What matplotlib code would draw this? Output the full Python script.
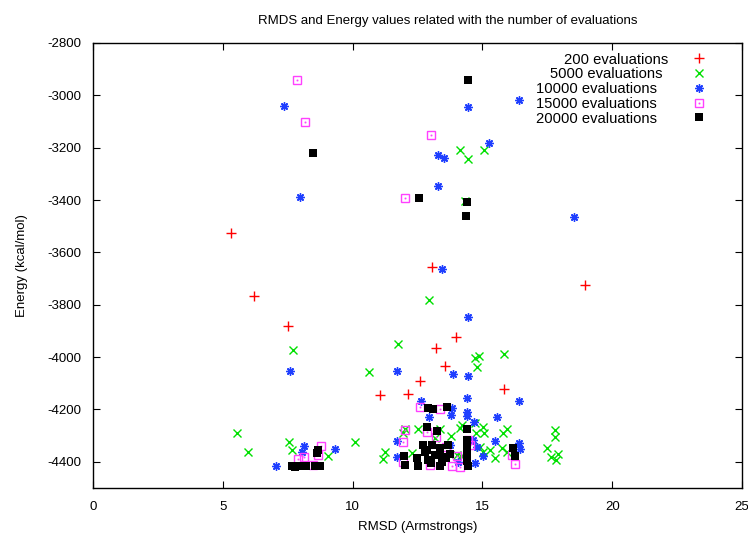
import matplotlib
matplotlib.use("Agg")
import matplotlib.pyplot as plt
from matplotlib.legend_handler import HandlerTuple

plt.rcParams['font.family'] = ['Liberation Sans', 'DejaVu Sans']
plt.rcParams['axes.unicode_minus'] = False

# 200 evaluations
x200 = [5.3, 6.2, 7.5, 13.05, 14.0, 13.2, 13.55, 12.6, 15.85, 11.05, 12.15, 18.95]
y200 = [-3525, -3765, -3880, -3655, -3925, -3965, -4035, -4090, -4120, -4145, -4140, -3725]

# 5000 evaluations
x5000 = [7.7, 5.55, 5.97, 7.55, 7.66, 9.05, 10.09, 10.63, 11.75, 12.94, 14.7, 14.87, 14.8, 15.83,
         14.14, 14.45, 15.06, 14.33, 17.8, 17.8, 17.5, 17.64, 17.9, 17.83,
         11.25, 11.17, 12.02, 12.52, 12.29, 13.37, 13.79, 14.21, 14.14, 14.7, 15.02, 15.06,
         14.75, 14.9, 15.02, 15.3, 15.5, 15.76, 15.95, 15.8, 15.95, 14.17, 13.75, 14.02,
         11.95, 13.17]
y5000 = [-3974, -4290, -4363, -4325, -4355, -4378, -4325, -4057, -3950, -3782, -4004, -3996, -4038, -3989,
         -3209, -3243, -3209, -3404, -4279, -4306, -4348, -4382, -4371, -4394,
         -4363, -4390, -4275, -4275, -4367, -4275, -4302, -4260, -4271, -4252, -4267, -4290,
         -4290, -4344, -4363, -4355, -4386, -4348, -4363, -4290, -4275, -4378, -4375, -4375,
         -4290, -4310]

# 10000 evaluations
x10000 = [7.36, 7.97, 7.59, 7.05, 8.13, 8.05, 9.32, 14.45, 16.41, 15.25, 13.29, 13.52, 13.29, 18.53,
          13.44, 14.45, 11.71, 13.87, 14.45, 12.63, 14.41, 16.41, 13.83, 13.79, 12.94, 14.41,
          14.41, 14.68, 15.56, 11.71, 15.48, 16.41, 16.45, 11.71, 15.02, 14.72, 14.06, 14.64,
          14.79, 13.75]
y10000 = [-3041, -3389, -4053, -4417, -4340, -4363, -4352, -3044, -3018, -3182, -3228, -3239, -3347, -3465,
          -3664, -3847, -4053, -4065, -4073, -4168, -4157, -4168, -4195, -4222, -4229, -4210,
          -4225, -4248, -4229, -4321, -4321, -4329, -4352, -4382, -4378, -4405, -4401, -4317,
          -4344, -4336]

# 15000 evaluations
x15000 = [7.86, 8.17, 13.02, 12.02, 8.78, 8.13, 7.9, 8.47, 8.67, 12.6, 13.37, 12.02, 11.94, 12.87,
          13.21, 13.6, 14.02, 13.83, 12.98, 14.45, 14.52, 16.14, 16.26, 14.14, 11.94]
y15000 = [-2942, -3102, -3151, -3392, -4340, -4382, -4390, -4413, -4375, -4191, -4199, -4279, -4325, -4287,
          -4306, -4344, -4378, -4417, -4413, -4317, -4336, -4375, -4409, -4420, -4401]

# 20000 evaluations
x20000 = [8.47, 14.45, 12.56, 14.41, 14.37, 8.67, 8.63, 7.67, 7.97, 8.2, 8.55, 8.74, 7.78,
          12.9, 13.1, 13.64, 12.87, 13.25, 14.41, 16.18, 16.26, 11.98, 12.02,
          12.71, 12.79, 12.9, 12.48, 12.52, 12.87, 13.06, 13.17, 13.37, 13.44, 13.37, 13.48,
          13.37, 13.6, 13.67, 14.41, 14.41, 14.41, 14.41, 14.41, 14.45, 13.02, 13.75]
y20000 = [-3222, -2942, -3392, -3408, -3461, -4355, -4367, -4417, -4417, -4417, -4417, -4417, -4420,
          -4195, -4199, -4191, -4267, -4283, -4275, -4348, -4378, -4378, -4413,
          -4336, -4363, -4394, -4386, -4417, -4355, -4336, -4375, -4348, -4401, -4355, -4382,
          -4417, -4386, -4336, -4317, -4336, -4355, -4375, -4398, -4417, -4405, -4370]

labels = ['200 evaluations', '5000 evaluations', '10000 evaluations',
          '15000 evaluations', '20000 evaluations']

fig = plt.figure(figsize=(7.48, 5.34), dpi=100)
ax = fig.add_axes([0.1243, 0.0861, 0.8677, 0.8334])

h1, = ax.plot(x200, y200, linestyle='none', marker='+', color='#ff0000', ms=6.5, mew=1.0)
h2, = ax.plot(x5000, y5000, linestyle='none', marker='x', color='#00e000', ms=5.5, mew=1.0)
h3, = ax.plot(x10000, y10000, linestyle='none', marker=(8, 2, 0), color='#1f3fff', ms=6, mew=1.0)
h4a, = ax.plot(x15000, y15000, linestyle='none', marker='s', mfc='none', mec='#ff40ff', ms=6, mew=1.0)
h4b, = ax.plot(x15000, y15000, linestyle='none', marker='s', color='#ff40ff', ms=0.8, mew=0.5)
h5, = ax.plot(x20000, y20000, linestyle='none', marker='s', color='black', ms=5.5, mew=0)

ax.set_xlim(0, 25)
ax.set_ylim(-4500, -2800)
ax.set_xticks([0, 5, 10, 15, 20, 25])
ax.set_yticks(list(range(-4400, -2799, 200)))
ax.tick_params(direction='in', top=True, right=True, labelsize=9.5, length=5, width=0.8)
ax.tick_params(axis='x', pad=9)
ax.tick_params(axis='y', pad=8)
for s in ax.spines.values():
    s.set_linewidth(1.0)

ax.set_title('RMDS and Energy values related with the number of evaluations', fontsize=9.5,
             pad=14, x=0.547)
ax.set_xlabel('RMSD (Armstrongs)', fontsize=9.5, labelpad=6)
ax.set_ylabel('Energy (kcal/mol)', fontsize=9.5, labelpad=14)

leg = ax.legend([h1, h2, h3, (h4a, h4b), h5], labels,
                handler_map={tuple: HandlerTuple(ndivide=1)},
                loc='upper right', markerfirst=False, frameon=False, fontsize=10.6,
                handlelength=1.5, handletextpad=2.15, labelspacing=0.05,
                borderaxespad=0.25, bbox_to_anchor=(0.966, 1.0))
renderer = fig.canvas.get_renderer()
fig.canvas.draw()
widths = [t.get_window_extent(renderer).width for t in leg.get_texts()]
mw = max(widths)
for t, w in zip(leg.get_texts(), widths):
    t.set_position(((mw - w) * 72.0 / fig.dpi, 0))

fig.savefig('out.png', dpi=100)
